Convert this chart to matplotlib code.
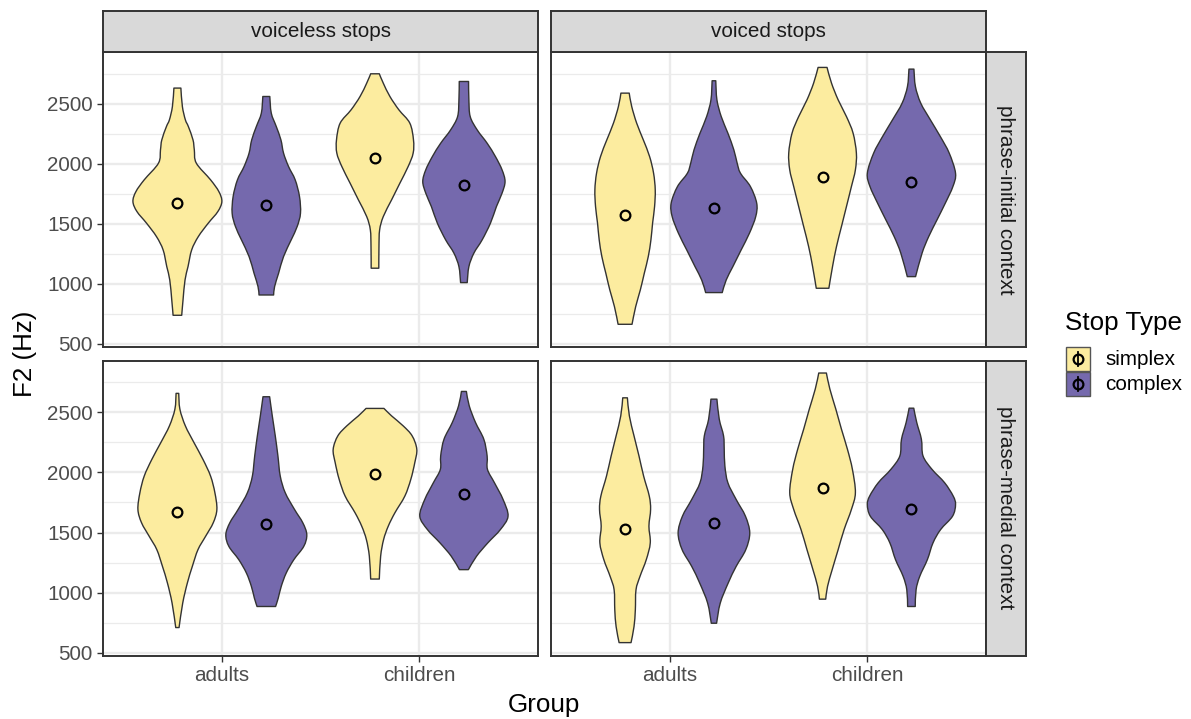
import numpy as np
import matplotlib
matplotlib.use("Agg")
import matplotlib.pyplot as plt
from matplotlib.path import Path
from matplotlib.patches import PathPatch, Rectangle
from matplotlib.lines import Line2D

plt.rcParams['font.family'] = ['Liberation Sans', 'DejaVu Sans']

# ---------------- data ----------------
groups = ["adults", "children"]
stop_types = ["simplex", "complex"]
col_labels = ["voiceless stops", "voiced stops"]
row_labels = ["phrase-initial context", "phrase-medial context"]
fill_colors = ["#FCEC9F", "#7569AD"]
y_ticks = [500, 1000, 1500, 2000, 2500]
y_minor = [750, 1250, 1750, 2250, 2750]

# violin outlines: F2 levels (Hz, top -> bottom) and relative density (half width)
# phrase-initial, voiceless
ini_vl_adu_sim_f2 = [2631, 2478, 2367, 2311, 2200, 2117, 2006, 1867, 1769, 1686, 1603, 1506, 1394, 1283, 1144, 1033, 867, 739]
ini_vl_adu_sim_d = [10.5, 15, 24, 33, 47, 51, 57, 100, 125, 134, 122, 93, 63, 43, 32, 23, 17, 13]
ini_vl_adu_com_f2 = [2561, 2422, 2311, 2200, 2089, 1978, 1867, 1728, 1589, 1478, 1367, 1228, 1089, 978, 908]
ini_vl_adu_com_d = [10.5, 15, 30, 44, 52, 67, 87, 100, 103, 93, 75, 52, 37, 25, 22]
ini_vl_chi_sim_f2 = [2750, 2672, 2561, 2450, 2339, 2200, 2089, 1978, 1839, 1700, 1561, 1450, 1311, 1131]
ini_vl_chi_sim_d = [13, 25, 45, 72, 105, 116, 115, 100, 75, 50, 25, 14, 12, 11.5]
ini_vl_chi_com_f2 = [2686, 2533, 2394, 2283, 2172, 2061, 1950, 1853, 1756, 1644, 1506, 1367, 1256, 1144, 1011]
ini_vl_chi_com_d = [14, 15, 19, 40, 70, 95, 115, 124, 115, 98, 80, 55, 30, 15, 10]
# phrase-initial, voiced
ini_vd_adu_sim_f2 = [2589, 2478, 2339, 2200, 2061, 1922, 1783, 1644, 1506, 1367, 1228, 1089, 950, 811, 664]
ini_vd_adu_sim_d = [12.5, 20, 35, 55, 74, 86, 91, 89, 83, 78, 70, 58, 46, 32, 21]
ini_vd_adu_com_f2 = [2692, 2533, 2394, 2256, 2117, 2006, 1922, 1811, 1672, 1561, 1422, 1283, 1144, 1033, 928]
ini_vd_adu_com_d = [5.5, 9, 22, 42, 60, 70, 80, 110, 129, 126, 107, 82, 57, 37, 25]
ini_vd_chi_sim_f2 = [2803, 2672, 2533, 2394, 2256, 2089, 1950, 1811, 1644, 1478, 1311, 1144, 964]
ini_vd_chi_sim_d = [13.5, 27, 47, 72, 92, 102, 99, 87, 72, 57, 42, 30, 19]
ini_vd_chi_com_f2 = [2789, 2644, 2506, 2367, 2228, 2089, 1922, 1811, 1672, 1533, 1394, 1256, 1061]
ini_vd_chi_com_d = [7.5, 12, 28, 57, 87, 114, 133, 125, 102, 77, 52, 32, 12.5]
# phrase-medial, voiceless
med_vl_adu_sim_f2 = [2656, 2525, 2386, 2247, 2108, 1969, 1831, 1692, 1581, 1469, 1358, 1219, 1081, 914, 711]
med_vl_adu_sim_d = [4, 7.5, 24, 50, 77, 100, 113, 119, 108, 85, 62, 45, 30, 16, 5]
med_vl_adu_com_f2 = [2628, 2469, 2303, 2136, 1969, 1831, 1692, 1581, 1483, 1386, 1275, 1164, 1053, 956, 886]
med_vl_adu_com_d = [10, 18, 27, 35, 42, 57, 85, 110, 122, 113, 83, 60, 45, 36, 28]
med_vl_chi_sim_f2 = [2531, 2469, 2386, 2303, 2192, 2081, 1942, 1803, 1664, 1553, 1442, 1303, 1114]
med_vl_chi_sim_d = [27, 50, 85, 112, 126, 120, 108, 90, 60, 40, 26, 17, 13]
med_vl_chi_com_f2 = [2672, 2553, 2414, 2275, 2136, 2025, 1914, 1775, 1636, 1525, 1414, 1303, 1192]
med_vl_chi_com_d = [7.5, 16, 35, 60, 70, 71, 92, 118, 133, 110, 72, 38, 13.5]
# phrase-medial, voiced
med_vd_adu_sim_f2 = [2619, 2469, 2303, 2136, 1969, 1803, 1692, 1553, 1414, 1275, 1136, 1025, 858, 719, 586]
med_vd_adu_sim_d = [7, 13, 27, 42, 56, 73, 77, 72, 76, 64, 45, 33, 31, 27, 18]
med_vd_adu_com_f2 = [2608, 2442, 2303, 2192, 2053, 1914, 1775, 1636, 1497, 1358, 1219, 1081, 914, 747]
med_vd_adu_com_d = [9, 16, 29, 31, 33, 42, 67, 95, 108, 96, 67, 43, 19, 8]
med_vd_chi_sim_f2 = [2825, 2692, 2525, 2358, 2192, 2025, 1831, 1692, 1525, 1358, 1192, 1053, 947]
med_vd_chi_sim_d = [11.5, 22, 40, 57, 75, 90, 99, 87, 65, 47, 29, 15, 9.5]
med_vd_chi_com_f2 = [2533, 2414, 2275, 2136, 2025, 1914, 1803, 1733, 1636, 1525, 1414, 1275, 1136, 1025, 886]
med_vd_chi_com_d = [7, 16, 30, 35, 62, 100, 126, 133, 124, 88, 65, 48, 25, 14, 11.5]

# group means (adults-simplex, adults-complex, children-simplex, children-complex)
means_ini_vl = [1678, 1661, 2050, 1828]
means_ini_vd = [1578, 1636, 1892, 1853]
means_med_vl = [1669, 1572, 1983, 1819]
means_med_vd = [1533, 1578, 1869, 1692]

panels = {
    (0, 0): ([(ini_vl_adu_sim_f2, ini_vl_adu_sim_d), (ini_vl_adu_com_f2, ini_vl_adu_com_d),
              (ini_vl_chi_sim_f2, ini_vl_chi_sim_d), (ini_vl_chi_com_f2, ini_vl_chi_com_d)], means_ini_vl),
    (0, 1): ([(ini_vd_adu_sim_f2, ini_vd_adu_sim_d), (ini_vd_adu_com_f2, ini_vd_adu_com_d),
              (ini_vd_chi_sim_f2, ini_vd_chi_sim_d), (ini_vd_chi_com_f2, ini_vd_chi_com_d)], means_ini_vd),
    (1, 0): ([(med_vl_adu_sim_f2, med_vl_adu_sim_d), (med_vl_adu_com_f2, med_vl_adu_com_d),
              (med_vl_chi_sim_f2, med_vl_chi_sim_d), (med_vl_chi_com_f2, med_vl_chi_com_d)], means_med_vl),
    (1, 1): ([(med_vd_adu_sim_f2, med_vd_adu_sim_d), (med_vd_adu_com_f2, med_vd_adu_com_d),
              (med_vd_chi_sim_f2, med_vd_chi_sim_d), (med_vd_chi_com_f2, med_vd_chi_com_d)], means_med_vd),
}

# ---------------- helpers ----------------
W, H = 1191, 719
fig = plt.figure(figsize=(W / 100, H / 100), dpi=100)
fig.patch.set_facecolor("white")


def box(x1, y1, x2, y2):
    return [x1 / W, 1 - y2 / H, (x2 - x1) / W, (y2 - y1) / H]


def catmull(pts):
    pts = np.asarray(pts, float)
    n = len(pts)
    verts, codes = [], []
    for i in range(n - 1):
        p0 = pts[i - 1] if i > 0 else pts[i]
        p1, p2 = pts[i], pts[i + 1]
        p3 = pts[i + 2] if i + 2 < n else pts[i + 1]
        c1 = p1 + (p2 - p0) / 6.0
        c2 = p2 - (p3 - p1) / 6.0
        verts += [c1, c2, p2]
        codes += [Path.CURVE4] * 3
    return verts, codes


all_d = [max(d) for v in panels.values() for (_, d) in v[0]]
dmax = max(all_d)
half_width = 0.225
dodge = 0.225


def violin(ax, xc, f2, d, color):
    f2 = np.asarray(f2, float)
    hw = np.asarray(d, float) / dmax * half_width
    right = np.column_stack([xc + hw, f2])
    left = np.column_stack([xc - hw, f2])[::-1]
    verts = [right[0]]
    codes = [Path.MOVETO]
    v, c = catmull(right)
    verts += v; codes += c
    verts.append(left[0]); codes.append(Path.LINETO)
    v, c = catmull(left)
    verts += v; codes += c
    verts.append(right[0]); codes.append(Path.CLOSEPOLY)
    ax.add_patch(PathPatch(Path(verts, codes), facecolor=color, edgecolor="#333333",
                           lw=1.0, zorder=3, joinstyle="round"))


col_x = [(103.3, 538.0), (551.0, 985.5)]
row_y = [(52.3, 346.5), (360.5, 655.5)]
border = "#333333"
grid_c = "#EBEBEB"

for (r, c), (viol, means) in panels.items():
    x1, x2 = col_x[c]
    y1, y2 = row_y[r]
    ax = fig.add_axes(box(x1, y1, x2, y2))
    ax.set_xlim(0.4, 2.6)
    ax.set_ylim(479, 2929)
    for yv in y_minor:
        ax.axhline(yv, color=grid_c, lw=0.9, zorder=0)
    for yv in y_ticks:
        ax.axhline(yv, color=grid_c, lw=1.7, zorder=0)
    for xv in [1, 2]:
        ax.axvline(xv, color=grid_c, lw=1.7, zorder=0)
    k = 0
    for gi, g in enumerate(groups):
        for si, s in enumerate(stop_types):
            xc = gi + 1 + (-dodge if si == 0 else dodge)
            f2, d = viol[k]
            violin(ax, xc, f2, d, fill_colors[si])
            ax.plot([xc], [means[k]], marker="o", ms=7, mfc="none", mec="black",
                    mew=1.6, zorder=5, ls="none")
            k += 1
    for sp in ax.spines.values():
        sp.set_color(border)
        sp.set_linewidth(1.4)
        sp.set_zorder(6)
    ax.set_yticks(y_ticks)
    ax.set_xticks([1, 2])
    ax.tick_params(axis="both", color=border, width=1.0, length=4.5,
                   labelsize=14.9, labelcolor="#4D4D4D", pad=3)
    if c == 0:
        ax.set_yticklabels([str(t) for t in y_ticks])
    else:
        ax.tick_params(axis="y", length=0, labelleft=False)
    if r == 1:
        ax.set_xticklabels(groups)
    else:
        ax.tick_params(axis="x", length=0, labelbottom=False)

# strips
strip_fill = "#D9D9D9"
for c in range(2):
    x1, x2 = col_x[c]
    sax = fig.add_axes(box(x1, 11.0, x2, 52.3))
    sax.set_facecolor(strip_fill)
    sax.set_xticks([]); sax.set_yticks([])
    for sp in sax.spines.values():
        sp.set_color(border); sp.set_linewidth(1.4)
    sax.text(0.5, 0.5, col_labels[c], ha="center", va="center", fontsize=14.9,
             color="#1A1A1A", transform=sax.transAxes)
for r in range(2):
    y1, y2 = row_y[r]
    sax = fig.add_axes(box(985.5, y1, 1025.5, y2))
    sax.set_facecolor(strip_fill)
    sax.set_xticks([]); sax.set_yticks([])
    for sp in sax.spines.values():
        sp.set_color(border); sp.set_linewidth(1.4)
    sax.text(0.5, 0.5, row_labels[r], ha="center", va="center", fontsize=14.9,
             color="#1A1A1A", rotation=-90, transform=sax.transAxes)

# axis titles
fig.text(544 / W, 1 - 705 / H, "Group", ha="center", va="center", fontsize=18.7, color="black")
fig.text(25 / W, 1 - 354 / H, "F2 (Hz)", ha="center", va="center", fontsize=18.7,
         color="black", rotation=90)

# legend
fig.text(1065 / W, 1 - 323 / H, "Stop Type", ha="left", va="center", fontsize=18.7, color="black")
key_tops = [347.0, 372.0]
for i, s in enumerate(stop_types):
    ky = key_tops[i]
    fig.add_artist(Rectangle((1066 / W, 1 - (ky + 24) / H), 24 / W, 24 / H,
                             transform=fig.transFigure, facecolor=fill_colors[i],
                             edgecolor="#555555", lw=1.0))
    cx, cy = 1078 / W, 1 - (ky + 12) / H
    fig.add_artist(Line2D([cx, cx], [1 - (ky + 5) / H, 1 - (ky + 19) / H],
                          transform=fig.transFigure, color="black", lw=1.3))
    fig.add_artist(Line2D([cx], [cy], transform=fig.transFigure, marker="o", ms=7,
                          mfc="none", mec="black", mew=1.6, ls="none"))
    fig.text(1105 / W, 1 - (ky + 12.5) / H, s, ha="left", va="center", fontsize=14.9, color="black")

fig.savefig("out.png", dpi=100)
